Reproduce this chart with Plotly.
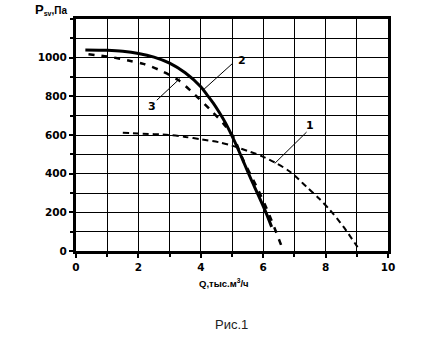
import plotly.graph_objects as go

# Fan pressure curves P_sv(Q)
q1 = [1.5, 2.0, 3.0, 3.5, 4.0, 4.6, 5.0, 5.58, 5.95, 6.43, 6.86, 7.39, 7.8, 8.14, 8.57, 8.94, 9.05]
p1 = [612, 608, 600, 590, 578, 562, 545, 513, 491, 453, 410, 332, 270, 212, 126, 40, 15]

q2 = [0.3, 1.0, 1.5, 2.0, 2.5, 3.0, 3.5, 4.0, 4.2, 4.4, 4.6, 4.8, 5.0, 5.2, 5.4, 5.6, 5.84, 6.06, 6.27]
p2 = [1040, 1038, 1033, 1022, 1003, 972, 922, 850, 808, 765, 715, 660, 595, 525, 450, 375, 290, 210, 125]

q3 = [0.4, 1.09, 1.68, 2.16, 2.69, 3.28, 3.71, 4.29, 4.72, 5.04, 5.36, 5.79, 6.11, 6.36, 6.6]
p3 = [1018, 1004, 985, 968, 935, 884, 823, 733, 660, 591, 470, 332, 220, 120, 20]

curve_labels = ["1", "2", "3"]
label_pos = [(7.5, 650), (5.31, 987), (2.43, 745)]
leader_lines = [((6.37, 453), (7.39, 615)), ((4.07, 832), (5.03, 972)), ((2.59, 780), (3.33, 892))]

x_ticks = [0, 2, 4, 6, 8, 10]
y_ticks = [0, 200, 400, 600, 800, 1000]

fig = go.Figure()
fig.add_trace(go.Scatter(x=q1, y=p1, mode="lines",
                         line=dict(color="black", width=2, dash="6px,4px", shape="spline", smoothing=0.8)))
fig.add_trace(go.Scatter(x=q2, y=p2, mode="lines",
                         line=dict(color="black", width=3, shape="spline", smoothing=0.8)))
fig.add_trace(go.Scatter(x=q3, y=p3, mode="lines",
                         line=dict(color="black", width=2.5, dash="6px,7px", shape="spline", smoothing=0.8)))

for (x0, y0), (x1, y1) in leader_lines:
    fig.add_shape(type="line", x0=x0, y0=y0, x1=x1, y1=y1, line=dict(color="black", width=1))

for t, (x, y) in zip(curve_labels, label_pos):
    fig.add_annotation(x=x, y=y, text="<b>%s</b>" % t, showarrow=False,
                       font=dict(family="DejaVu Sans", size=11, color="black"))

axis_common = dict(showline=True, linewidth=3, linecolor="black", mirror=True,
                   showgrid=True, gridcolor="black", gridwidth=1,
                   ticks="outside", ticklen=4, tickwidth=2, tickcolor="black",
                   tickfont=dict(family="DejaVu Sans", size=10.5, color="black", weight="bold"),
                   zeroline=False, fixedrange=True)

fig.update_xaxes(range=[0, 10], tickvals=x_ticks,
                 minor=dict(dtick=1, showgrid=True, gridcolor="black", gridwidth=1,
                            ticks="outside", ticklen=3, tickwidth=2, tickcolor="black"),
                 **axis_common)
fig.update_yaxes(range=[0, 1200], tickvals=y_ticks,
                 minor=dict(dtick=100, showgrid=True, gridcolor="black", gridwidth=1,
                            ticks="outside", ticklen=3, tickwidth=2, tickcolor="black"),
                 **axis_common)

# axis titles and caption
fig.add_annotation(xref="paper", yref="paper", x=-0.138, y=1.0, xanchor="left", yanchor="bottom",
                   text="<b><span style='font-size:13px'>P</span><sub>sv</sub>,Па</b>",
                   showarrow=False, font=dict(family="Liberation Sans", size=10, color="black"))
fig.add_annotation(xref="paper", yref="paper", x=0.475, y=-0.14, xanchor="center", yanchor="middle",
                   text="<b>Q,тыс.м<sup>3</sup>/ч</b>",
                   showarrow=False, font=dict(family="Liberation Sans", size=9.5, color="black"))
fig.add_annotation(xref="paper", yref="paper", x=0.497, y=-0.318, xanchor="center", yanchor="middle",
                   text="Рис.1", showarrow=False,
                   font=dict(family="Liberation Sans", size=13, color="#222"))

fig.update_layout(width=440, height=346, margin=dict(l=76, r=52, t=19, b=95),
                  paper_bgcolor="white", plot_bgcolor="white", showlegend=False)

fig.write_html("out.html")
